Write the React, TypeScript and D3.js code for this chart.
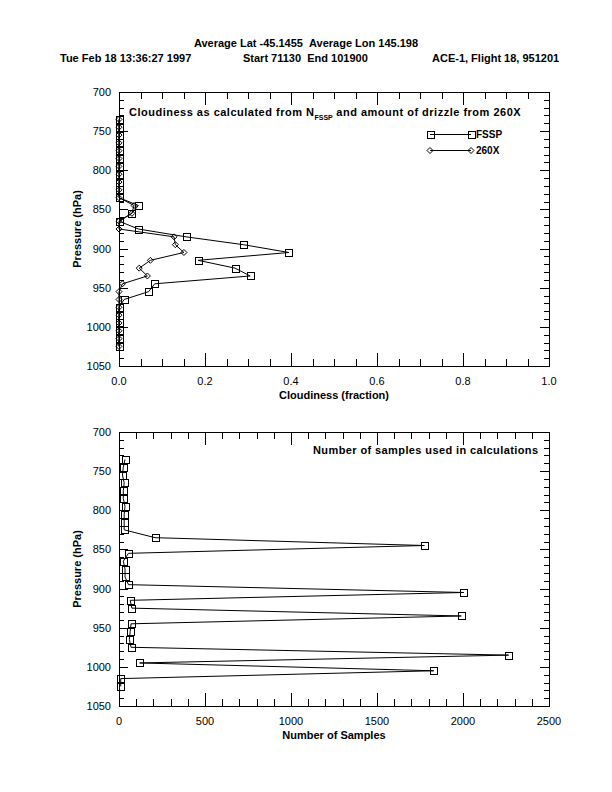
import React from "react";
import * as d3 from "d3";

const pressureLevels = [735, 745, 755, 765, 775, 785, 795, 805, 815, 825, 835, 845, 855, 865, 875, 885, 895, 905, 915, 925, 935, 945, 955, 965, 975, 985, 995, 1005, 1015, 1025];
const fsspCloud = [0, 0, 0, 0, 0, 0, 0, 0, 0, 0, 0, 0.045, 0.03, 0, 0.045, 0.156, 0.289, 0.395, 0.184, 0.27, 0.305, 0.083, 0.069, 0.012, 0, 0, 0, 0, 0, 0];
const x260Cloud = [0, 0, 0, 0, 0, 0, 0, 0, 0, 0, 0, 0.035, 0.03, 0, 0, 0.128, 0.131, 0.151, 0.073, 0.047, 0.066, 0.008, 0, 0, 0, 0, 0, 0, 0, 0];
const sampleCounts = [35, 25, 20, 30, 25, 25, 35, 30, 30, 30, 210, 1775, 55, 25, 35, 35, 55, 2005, 65, 75, 1990, 70, 65, 60, 70, 2265, 120, 1830, 10, 10];

const pressureTicks = [700, 750, 800, 850, 900, 950, 1000, 1050];
const cloudTicks = [0, 0.2, 0.4, 0.6, 0.8, 1.0];
const sampleTicks = [0, 500, 1000, 1500, 2000, 2500];

const FONT = "'Liberation Sans', Arial, Helvetica, sans-serif";
const L = 119, R = 549;
const SP2 = "\u00a0\u00a0";

type AxisProps = {
  x: d3.ScaleLinear<number, number>;
  y: d3.ScaleLinear<number, number>;
  xTicks: number[];
  xMinorStep: number;
  xFormat: (v: number) => string;
  xTitle: string;
};

function Frame({ x, y, xTicks, xMinorStep, xFormat, xTitle }: AxisProps) {
  const [x0, x1] = x.range();
  const [y1, y0] = y.range();
  const top = Math.min(y0, y1), bot = Math.max(y0, y1);
  const xMin = x.domain()[0], xMax = x.domain()[1];
  const xMinor = d3.range(xMin, xMax + xMinorStep / 2, xMinorStep);
  const yMinor = d3.range(700, 1051, 10);
  const isMajorX = (v: number) => xTicks.some((t) => Math.abs(t - v) < 1e-9);
  const isMajorY = (v: number) => v % 50 === 0;
  const ticks: JSX.Element[] = [];
  xMinor.forEach((v, i) => {
    const px = Math.round(x(v)) + 0.5;
    const len = isMajorX(v) ? 13 : 7;
    ticks.push(<line key={"xb" + i} x1={px} x2={px} y1={bot} y2={bot - len} />);
    ticks.push(<line key={"xt" + i} x1={px} x2={px} y1={top} y2={top + len} />);
  });
  yMinor.forEach((v, i) => {
    const py = Math.round(y(v)) + 0.5;
    const len = isMajorY(v) ? 9 : 5;
    ticks.push(<line key={"yl" + i} x1={x0} x2={x0 + len} y1={py} y2={py} />);
    ticks.push(<line key={"yr" + i} x1={x1} x2={x1 - len} y1={py} y2={py} />);
  });
  return (
    <g>
      <g stroke="#000" strokeWidth={1} shapeRendering="crispEdges">
        <rect x={x0 + 0.5} y={top + 0.5} width={x1 - x0} height={bot - top} fill="none" />
        {ticks}
      </g>
      <g fontFamily={FONT} fontSize={11} fill="#000">
        {pressureTicks.map((p) => (
          <text key={"pl" + p} x={x0 - 8} y={y(p) + 4} textAnchor="end">{p}</text>
        ))}
        {xTicks.map((t) => (
          <text key={"xl" + t} x={x(t)} y={bot + 19} textAnchor="middle">{xFormat(t)}</text>
        ))}
        <text x={(x0 + x1) / 2} y={bot + 33} textAnchor="middle" fontWeight="bold">{xTitle}</text>
        <text transform={`translate(${x0 - 38},${(top + bot) / 2}) rotate(-90)`} textAnchor="middle" fontWeight="bold">Pressure (hPa)</text>
      </g>
    </g>
  );
}

function Square({ cx, cy, s = 3.5 }: { cx: number; cy: number; s?: number }) {
  return <rect x={Math.round(cx - s) + 0.5} y={Math.round(cy - s) + 0.5} width={2 * s} height={2 * s} fill="none" stroke="#000" />;
}
function Diamond({ cx, cy, s = 3 }: { cx: number; cy: number; s?: number }) {
  return <path d={`M${cx - s},${cy}L${cx},${cy - s}L${cx + s},${cy}L${cx},${cy + s}Z`} fill="none" stroke="#000" />;
}

export default function App() {
  const y1 = d3.scaleLinear().domain([700, 1050]).range([92, 366]);
  const xc = d3.scaleLinear().domain([0, 1]).range([L, R]);
  const y2 = d3.scaleLinear().domain([700, 1050]).range([432, 706]);
  const xs = d3.scaleLinear().domain([0, 2500]).range([L, R]);

  const lineTop = d3.line<number>().x((v) => xc(v)).y((_, i) => y1(pressureLevels[i]));
  const lineBot = d3.line<number>().x((v) => xs(v)).y((_, i) => y2(pressureLevels[i]));

  return (
    <svg width={612} height={792} style={{ position: "absolute", left: 0, top: 0, background: "#fff" }}>
      <rect x={0} y={0} width={612} height={792} fill="#fff" />
      <g fontFamily={FONT} fontSize={11} fontWeight="bold" fill="#000">
        <text x={306} y={47} textAnchor="middle">{"Average Lat -45.1455" + SP2 + "Average Lon 145.198"}</text>
        <text x={60} y={62}>{"Tue Feb 18 13:36:27 1997"}</text>
        <text x={243} y={62}>{"Start 71130" + SP2 + "End 101900"}</text>
        <text x={432} y={62}>{"ACE-1, Flight 18, 951201"}</text>
      </g>

      {/* Top plot */}
      <Frame x={xc} y={y1} xTicks={cloudTicks} xMinorStep={0.05} xFormat={(v) => v.toFixed(1)} xTitle="Cloudiness (fraction)" />
      <g fontFamily={FONT} fontSize={11} fontWeight="bold" fill="#000" letterSpacing={0.5}>
        <text x={129} y={116}>
          Cloudiness as calculated from N
          <tspan fontSize={7} dy={4} letterSpacing={0}>FSSP</tspan>
          <tspan dy={-4}> and amount of drizzle from 260X</tspan>
        </text>
      </g>
      <g stroke="#000" strokeWidth={1} fill="none">
        <path d={lineTop(fsspCloud) || ""} />
        <path d={lineTop(x260Cloud) || ""} />
        {fsspCloud.map((v, i) => <Square key={"fs" + i} cx={xc(v)} cy={y1(pressureLevels[i])} />)}
        {x260Cloud.map((v, i) => <Diamond key={"dx" + i} cx={xc(v)} cy={y1(pressureLevels[i])} />)}
        <line x1={430} x2={471} y1={134.5} y2={134.5} />
        <Square cx={430} cy={134} />
        <Square cx={471} cy={134} />
        <line x1={430} x2={471} y1={150.5} y2={150.5} />
        <Diamond cx={430} cy={150.5} />
        <Diamond cx={471} cy={150.5} />
      </g>
      <g fontFamily={FONT} fontSize={10} fontWeight="bold" fill="#000">
        <text x={476} y={138}>FSSP</text>
        <text x={476} y={154}>260X</text>
      </g>

      {/* Bottom plot */}
      <Frame x={xs} y={y2} xTicks={sampleTicks} xMinorStep={100} xFormat={(v) => String(v)} xTitle="Number of Samples" />
      <g fontFamily={FONT} fontSize={11} fontWeight="bold" fill="#000" letterSpacing={0.4}>
        <text x={313} y={454}>Number of samples used in calculations</text>
      </g>
      <g stroke="#000" strokeWidth={1} fill="none">
        <path d={lineBot(sampleCounts) || ""} />
        {sampleCounts.map((v, i) => <Square key={"sc" + i} cx={xs(v)} cy={y2(pressureLevels[i])} />)}
      </g>
    </svg>
  );
}
